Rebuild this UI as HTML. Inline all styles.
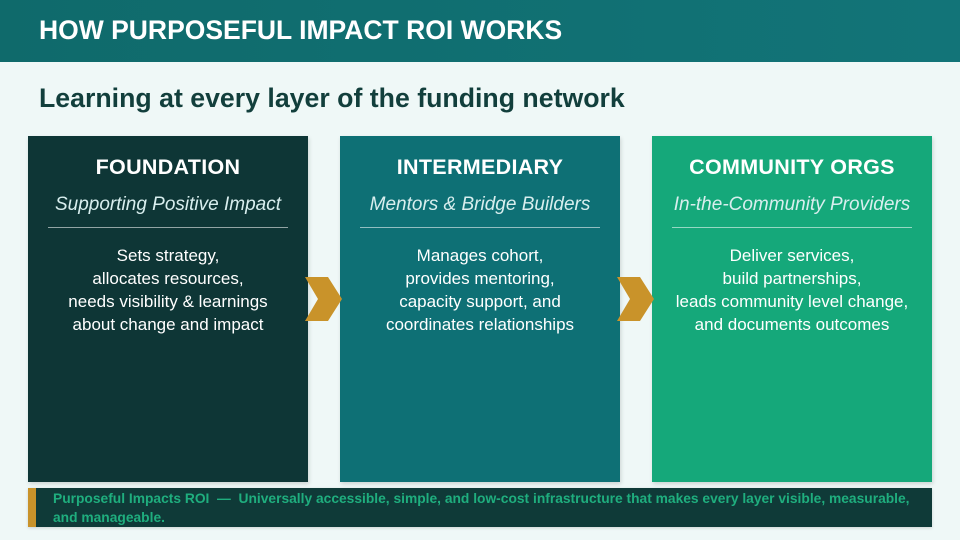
<!DOCTYPE html>
<html><head><style>
*{margin:0;padding:0;box-sizing:border-box}
body{width:960px;height:540px;background:#eff8f7;font-family:"Liberation Sans",sans-serif;position:relative;overflow:hidden}
.hdr{position:absolute;left:0;top:0;width:960px;height:62px;background:linear-gradient(90deg,#0f6a6b,#127478);}
.hdr h1{position:absolute;left:39px;top:15px;color:#fff;font-size:26.5px;font-weight:bold;letter-spacing:0}
.sub{position:absolute;left:39px;top:83px;font-size:26.7px;font-weight:bold;color:#123f3c}
.box{position:absolute;top:136px;width:280px;height:346px;color:#fff;text-align:center;box-shadow:1px 2px 4px rgba(0,0,0,0.15)}
.box h2{margin-top:19px;font-size:21.5px;font-weight:bold;letter-spacing:0.3px}
.box i{display:block;margin-top:14px;font-size:19px;color:#d8eeee}
.box hr{border:none;border-top:1px solid rgba(255,255,255,0.55);margin:11px 20px 0}
.box p{margin-top:16px;font-size:17px;line-height:23px}
.chev{position:absolute;top:277px}
.foot{position:absolute;left:28px;top:488px;width:904px;height:39px;background:#0f3a38;border-left:8px solid #c9932a;color:#1fae7e;font-size:13.8px;font-weight:bold;line-height:19px;padding:1px 0 0 17px;white-space:nowrap;box-shadow:0 1px 3px rgba(0,0,0,0.15)}
</style></head><body>
<div class="hdr"><h1>HOW PURPOSEFUL IMPACT ROI WORKS</h1></div>
<div class="sub">Learning at every layer of the funding network</div>
<div class="box" style="left:28px;background:#0e3636"><h2>FOUNDATION</h2><i>Supporting Positive Impact</i><hr><p>Sets strategy,<br>allocates resources,<br>needs visibility &amp; learnings<br>about change and impact</p></div>
<div class="box" style="left:340px;background:#0e7075"><h2>INTERMEDIARY</h2><i>Mentors &amp; Bridge Builders</i><hr><p>Manages cohort,<br>provides mentoring,<br>capacity support, and<br>coordinates relationships</p></div>
<div class="box" style="left:652px;background:#15a87a"><h2>COMMUNITY ORGS</h2><i>In-the-Community Providers</i><hr><p>Deliver services,<br>build partnerships,<br>leads community level change,<br>and documents outcomes</p></div>
<svg class="chev" style="left:305px" width="38" height="45"><polygon points="0,0 23,0 37,22 23,44 0,44 13,22" fill="#c9932a"/></svg>
<svg class="chev" style="left:617px" width="38" height="45"><polygon points="0,0 23,0 37,22 23,44 0,44 13,22" fill="#c9932a"/></svg>
<div class="foot">Purposeful Impacts ROI &nbsp;— &nbsp;Universally accessible, simple, and low-cost infrastructure that makes every layer visible, measurable,<br>and manageable.</div>
</body></html>
